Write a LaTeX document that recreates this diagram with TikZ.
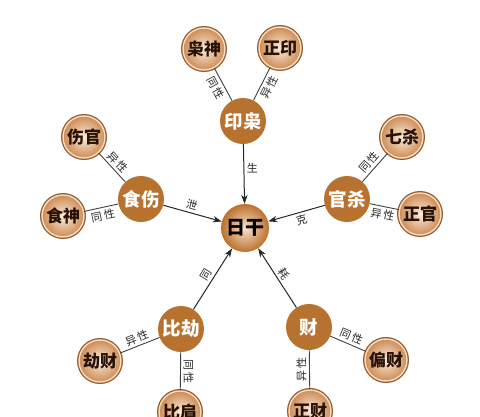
\documentclass[tikz,border=0pt]{standalone}
\usepackage{fontspec}
\newfontfamily\cjk{Noto Sans CJK SC}
\usetikzlibrary{arrows.meta}
\definecolor{copper}{RGB}{184,114,48}
\definecolor{ringbrown}{RGB}{150,92,45}
\definecolor{ringlight}{RGB}{246,222,196}
\definecolor{peachin}{RGB}{252,236,218}
\definecolor{peachout}{RGB}{205,140,86}
\definecolor{sunin}{RGB}{250,228,204}
\definecolor{sunout}{RGB}{188,112,46}
\definecolor{textdark}{RGB}{40,18,6}
\begin{document}
\begin{tikzpicture}[x=1pt,y=-1pt,
  outer/.style={circle, minimum size=42pt, inner sep=0pt,
    preaction={draw=ringbrown, line width=4pt},
    draw=ringlight, line width=1.4pt,
    inner color=peachin, outer color=peachout,
    text=textdark, font=\cjk\bfseries\fontsize{17}{17}\selectfont},
  inner/.style={circle, minimum size=46pt, inner sep=0pt, fill=copper,
    text=white, font=\cjk\bfseries\fontsize{18.5}{18.5}\selectfont},
  sun/.style={circle, minimum size=48pt, inner sep=0pt,
    inner color=sunin, outer color=sunout,
    text=black, font=\cjk\bfseries\fontsize{19}{19}\selectfont},
  arr/.style={draw=black!85, line width=1pt, -{Stealth[length=9pt,width=6.5pt]}},
  link/.style={draw=black!75, line width=0.9pt},
  lab/.style={font=\cjk\fontsize{11}{11}\selectfont, inner sep=2.5pt, text=black!85}
]
\useasboundingbox (0,0) rectangle (480,416);
\clip (0,0) rectangle (480,416);

% center
\node[sun] (rg) at (245,228) {日干};

% inner ring
\node[inner] (yx) at (243,121) {印枭};
\node[inner] (ss) at (141,199) {食伤};
\node[inner] (gs) at (347,199) {官杀};
\node[inner] (bj) at (181,329) {比劫};
\node[inner] (cai) at (309,327) {财};

% outer
\node[outer] (xs) at (204,49) {枭神};
\node[outer] (zy) at (280,48) {正印};
\node[outer] (sg) at (84,137) {伤官};
\node[outer] (shs) at (63,216) {食神};
\node[outer] (qs) at (402,137) {七杀};
\node[outer] (zg) at (420,214) {正官};
\node[outer] (jc) at (100,361) {劫财};
\node[outer] (bjian) at (180,412) {比肩};
\node[outer] (pc) at (386,360) {偏财};
\node[outer] (zc) at (310,411) {正财};

% links to outer
\draw[link] (xs) -- node[lab, sloped, below] {同\,性} (yx);
\draw[link] (zy) -- node[lab, sloped, below] {异\,性} (yx);
\draw[link] (sg) -- node[lab, sloped, above] {异\,性} (ss);
\draw[link] (shs) -- node[lab, sloped, below] {同\,性} (ss);
\draw[link] (gs) -- node[lab, sloped, above] {同\,性} (qs);
\draw[link] (gs) -- node[lab, sloped, below] {异\,性} (zg);
\draw[link] (jc) -- node[lab, sloped, above] {异\,性} (bj);
\draw[link] (bj) -- node[lab, rotate=-90, anchor=south] {同\,性} (bjian);
\draw[link] (cai) -- node[lab, sloped, above] {同\,性} (pc);
\draw[link] (cai) -- node[lab, rotate=90, anchor=south] {异\,性} (zc);

% arrows to center
\draw[arr] (yx) -- node[lab, right, pos=0.4] {生} (rg);
\draw[arr] (ss) -- node[lab, sloped, above, pos=0.45] {泄} (rg);
\draw[arr] (gs) -- node[lab, sloped, below, pos=0.45] {克} (rg);
\draw[arr] (bj) -- node[lab, sloped, above, pos=0.5] {同} (rg);
\draw[arr] (cai) -- node[lab, sloped, above, pos=0.5] {耗} (rg);
\end{tikzpicture}
\end{document}
